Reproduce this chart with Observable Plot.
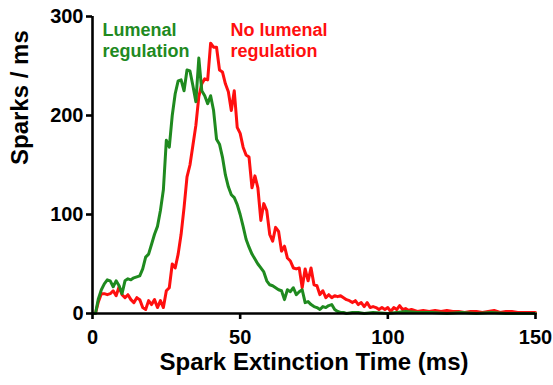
<!DOCTYPE html>
<html>
<head>
<meta charset="utf-8">
<script src="https://cdn.jsdelivr.net/npm/d3@7"></script>
<script src="https://cdn.jsdelivr.net/npm/@observablehq/plot@0.6"></script>
<style>
  html, body { margin: 0; padding: 0; background: #fff; }
  #chart svg { display: block; font-family: "Liberation Sans", Arial, sans-serif; }
</style>
</head>
<body>
<div id="chart"></div>
<script>
// Lumenal regulation (green)
const greenT = [0,1,2,3,4,5,6,7,8,9,10,11,12,13,14,15,16,17,18,19,20,21,22,23,24,25,26,27,28,29,30,31,32,33,34,35,36,37,38,39,40,41,42,43,44,45,46,47,48,49,50,51,52,53,54,55,56,57,58,59,60,61,62,63,64,65,66,67,68,69,70,71,72,73,74,75,76,77,78,79,80,81,82,83,84,85,86,88,90,92,95,100,103,106,110,115,120,125,130,135,140,145,150];
const greenV = [0,0,15,24,30,34,33,27,33,28,20,33,35,34,36,37,38,45,57,60,70,80,88,104,125,175,168,200,222,235,236,225,246,245,230,214,258,225,220,212,220,205,176,171,158,140,128,120,117,110,100,88,75,67,60,55,50,46,42,33,29,28,26,24,23,14,24,22,26,19,22,24,11,12,9,7,6,4,7,6,8,9,4,2,1,1,0,1,1,0,1,0,1,2,1,1,0,1,0,1,0,0,0];
// No lumenal regulation (red)
const redT = [0,1,2,3,4,5,6,7,8,9,10,11,12,13,14,15,16,17,18,19,20,21,22,23,24,25,26,27,28,29,30,31,32,33,34,35,36,37,38,39,40,41,42,43,44,45,46,47,48,49,50,51,52,53,54,55,56,57,58,59,60,61,62,63,64,65,66,67,68,69,70,71,72,73,74,75,76,77,78,79,80,81,82,83,84,85,86,87,88,89,90,91,92,93,94,95,96,97,98,99,100,101,102,103,104,105,106,107,108,110,112,114,116,118,120,122,124,126,128,130,132,134,136,138,140,142,144,146,148,150];
const redV = [0,0,12,20,20,19,20,23,18,27,19,16,19,14,11,16,14,6,4,13,9,14,6,13,6,23,26,50,46,60,80,107,138,150,170,190,219,232,237,236,273,269,269,246,244,232,224,205,225,188,182,168,160,158,127,139,127,94,111,104,80,73,87,83,63,68,56,53,46,45,46,26,45,33,46,29,28,19,23,16,19,16,18,17,18,16,14,13,11,13,9,11,7,11,6,7,6,4,6,4,6,2,6,4,8,4,5,3,4,2,3,2,3,2,3,2,2,1,2,2,1,2,3,1,2,2,1,1,1,1];

const xTicks = [0, 50, 100, 150];
const yTicks = [0, 100, 200, 300];
const xTitle = "Spark Extinction Time (ms)";
const yTitle = "Sparks / ms";
const labelLines = [
  {text: "Lumenal", t: 3.4, v: 286, series: "green"},
  {text: "regulation", t: 3.4, v: 265, series: "green"},
  {text: "No lumenal", t: 46.7, v: 286, series: "red"},
  {text: "regulation", t: 46.7, v: 265, series: "red"}
];

const GREEN = "#1F8A1F";
const RED = "#FF0F0F";

const green = greenT.map((t, i) => ({t, v: greenV[i]}));
const red = redT.map((t, i) => ({t, v: redV[i]}));

const chart = Plot.plot({
  width: 553,
  height: 385,
  marginLeft: 92,
  marginRight: 18,
  marginTop: 16,
  marginBottom: 72,
  style: {fontFamily: '"Liberation Sans", Arial, sans-serif', background: "#fff"},
  x: {domain: [0, 150]},
  y: {domain: [0, 300]},
  marks: [
    Plot.line(red, {x: "t", y: "v", stroke: RED, strokeWidth: 3, strokeLinejoin: "round"}),
    Plot.line(green, {x: "t", y: "v", stroke: GREEN, strokeWidth: 3, strokeLinejoin: "round"}),
    Plot.ruleY([0], {stroke: "#000", strokeWidth: 2.6}),
    Plot.ruleX([0], {stroke: "#000", strokeWidth: 2.6}),
    Plot.axisX({ticks: xTicks, tickSize: 6, tickPadding: 10, strokeWidth: 2.6, fontSize: 20, fontWeight: "bold", label: null, color: "#000"}),
    Plot.axisY({ticks: yTicks, tickSize: 6, tickPadding: 3, strokeWidth: 2.6, fontSize: 20, fontWeight: "bold", label: null, color: "#000"}),
    Plot.text([xTitle], {frameAnchor: "bottom", dy: 56, fontSize: 24, fontWeight: "bold", fill: "#000"}),
    Plot.text([yTitle], {frameAnchor: "left", dx: -72, rotate: -90, fontSize: 24, fontWeight: "bold", fill: "#000"}),
    Plot.text(labelLines, {x: "t", y: "v", text: "text", textAnchor: "start", fontSize: 18, fontWeight: "bold",
      fill: d => d.series === "green" ? GREEN : RED})
  ]
});
document.getElementById("chart").appendChild(chart);
</script>
</body>
</html>
